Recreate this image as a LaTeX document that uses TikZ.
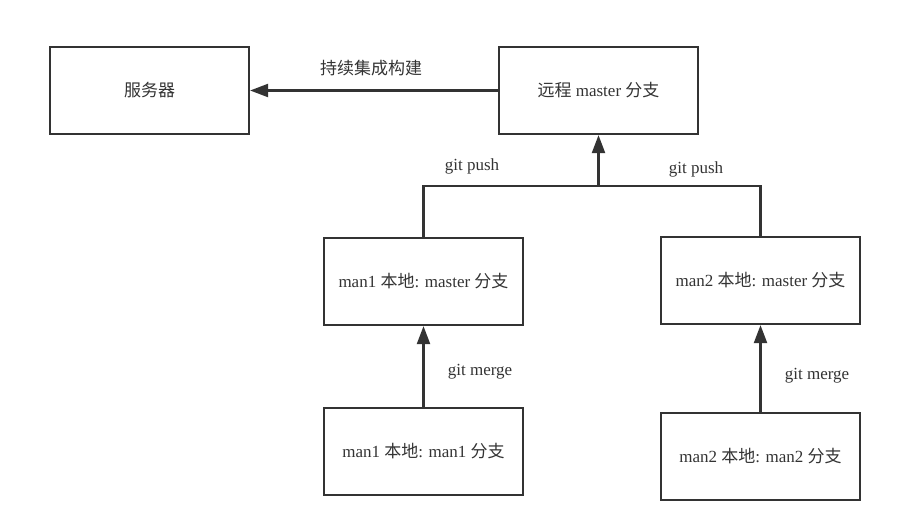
\documentclass[tikz,border=0pt]{standalone}
\usepackage{fontspec}
\setmainfont{Liberation Serif}
\newfontfamily\cjkf{Noto Sans CJK SC}
\usetikzlibrary{arrows.meta}
\definecolor{ink}{HTML}{333333}
\newcommand{\zh}[1]{{\cjkf #1}}
\begin{document}
\begin{tikzpicture}[x=1pt,y=-1pt,
  box/.style={draw=ink,line width=2.2pt,minimum width=199pt,minimum height=87pt,inner sep=0pt,text=ink,font=\fontsize{17}{20}\selectfont},
  conn/.style={draw=ink,line width=2.2pt},
  arr/.style={conn,-{Triangle[length=18pt,width=13pt]}},
  lbl/.style={text=ink,font=\fontsize{17}{20}\selectfont,inner sep=0pt}]
\useasboundingbox (0,0) rectangle (920,528);
\node[box] (srv) at (149.5,90.5) {\zh{服务器}};
\node[box] (rem) at (598.5,90.5) {\zh{远程} master \zh{分支}};
\node[box] (m1m) at (423.5,281.5) {man1 \zh{本地}: master \zh{分支}};
\node[box] (m2m) at (760.5,280.5) {man2 \zh{本地}: master \zh{分支}};
\node[box] (m1b) at (423.5,451.5) {man1 \zh{本地}: man1 \zh{分支}};
\node[box] (m2b) at (760.5,456.5) {man2 \zh{本地}: man2 \zh{分支}};
\coordinate (j) at (598.5,186);
\draw[arr] (rem.west) -- (srv.east);
\draw[conn] (m1m.north) |- (j);
\draw[conn] (m2m.north) |- (j);
\draw[arr] (j) -- (rem.south);
\draw[arr] (m1b.north) -- (m1m.south);
\draw[arr] (m2b.north) -- (m2m.south);
\node[lbl] (l0) at (371,68) {\zh{持续集成构建}};
\node[lbl] (l1) at (472,166.5) {git push};
\node[lbl] (l2) at (696,169.5) {git push};
\node[lbl] (l3) at (480,371.5) {git merge};
\node[lbl] (l4) at (817,375.5) {git merge};
\end{tikzpicture}
\end{document}
